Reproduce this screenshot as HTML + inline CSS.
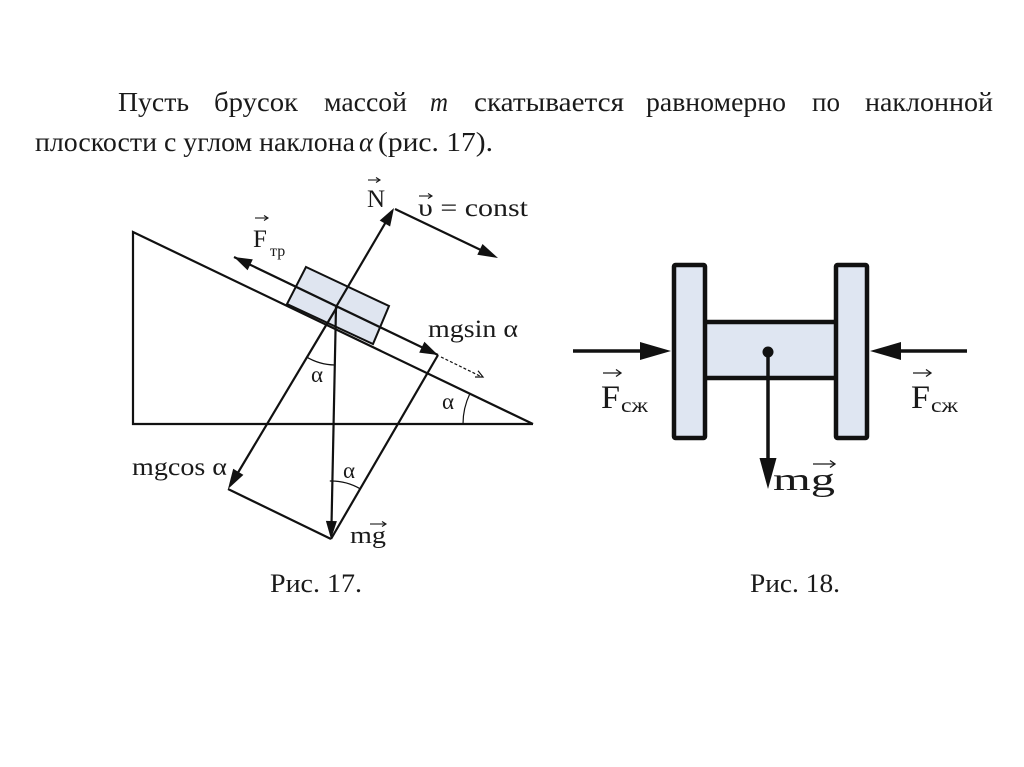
<!DOCTYPE html>
<html><head><meta charset="utf-8"><style>
html,body{margin:0;padding:0;background:#fff;}
svg{display:block;}
text{font-family:"Liberation Serif","DejaVu Serif",serif;fill:#1a1a1a;}
</style></head><body>
<svg width="1024" height="767" viewBox="0 0 1024 767" xmlns="http://www.w3.org/2000/svg">
<rect width="1024" height="767" fill="#fff"/>
<!-- paragraph -->
<g font-size="27">
<text x="118" y="111" textLength="71" lengthAdjust="spacingAndGlyphs">Пусть</text>
<text x="214" y="111" textLength="84" lengthAdjust="spacingAndGlyphs">брусок</text>
<text x="324" y="111" textLength="83" lengthAdjust="spacingAndGlyphs">массой</text>
<text x="430" y="111" textLength="18" lengthAdjust="spacingAndGlyphs" font-style="italic">m</text>
<text x="474" y="111" textLength="150" lengthAdjust="spacingAndGlyphs">скатывается</text>
<text x="646" y="111" textLength="140" lengthAdjust="spacingAndGlyphs">равномерно</text>
<text x="812" y="111" textLength="28" lengthAdjust="spacingAndGlyphs">по</text>
<text x="865" y="111" textLength="128" lengthAdjust="spacingAndGlyphs">наклонной</text>
<text x="35" y="151" textLength="320" lengthAdjust="spacingAndGlyphs">плоскости с углом наклона</text>
<text x="359" y="151" textLength="14" lengthAdjust="spacingAndGlyphs" font-style="italic">α</text>
<text x="378" y="151" textLength="115" lengthAdjust="spacingAndGlyphs">(рис. 17).</text>
</g>

<!-- Figure 17 -->
<polygon points="306,267 389,306 373,344 287,304" fill="#dfe5f0" stroke="#111" stroke-width="2"/>
<g stroke="#111" fill="none" stroke-width="2.2" stroke-linejoin="miter">
<polyline points="533,424 133,424 133,232 533,424"/>
<line x1="234" y1="257" x2="438" y2="355"/>
<line x1="336" y1="307" x2="390" y2="215"/>
<line x1="395" y1="209" x2="485" y2="252"/>
<line x1="337" y1="307" x2="233" y2="481"/>
<line x1="336" y1="307" x2="331.5" y2="525"/>
<line x1="228" y1="489" x2="331" y2="539"/>
<line x1="438" y1="355" x2="331" y2="539"/>
</g>
<g stroke="#111" fill="none" stroke-width="1.2">
<path d="M306.2,356.8 A58,58 0 0 0 334.8,365"/>
<path d="M469.9,393.6 A70,70 0 0 0 463,424"/>
<path d="M329.8,481 A58,58 0 0 1 360.2,488.8"/>
<line x1="441" y1="357" x2="482" y2="377" stroke-dasharray="3,2"/>
<polyline points="478,370.8 483,377 475,377"/>
</g>
<g fill="#111">
<polygon points="234,257 252.8,259.4 247.6,270.2"/>
<polygon points="438,355 424.4,341.8 419.2,352.6"/>
<polygon points="394,208 390.1,226.5 379.7,220.5"/>
<polygon points="498,258 477.3,254.8 482.5,244.0"/>
<polygon points="228,489 243.4,474.9 233.2,468.7"/>
<polygon points="331,539 336.9,521.1 325.9,520.9"/>
</g>
<!-- fig17 labels -->
<g font-size="25">
<text x="253" y="247">F</text>
<text x="270" y="256" font-size="16">тр</text>
<text x="367" y="207">N</text>
<text x="418" y="216" textLength="110" lengthAdjust="spacingAndGlyphs">υ = const</text>
<text x="428" y="337" textLength="90" lengthAdjust="spacingAndGlyphs">mgsin α</text>
<text x="132" y="475" textLength="95" lengthAdjust="spacingAndGlyphs">mgcos α</text>
<text x="311" y="382" font-size="23">α</text>
<text x="442" y="409" font-size="23">α</text>
<text x="343" y="478" font-size="23">α</text>
<text x="350" y="543" font-size="24" textLength="36" lengthAdjust="spacingAndGlyphs">mg</text>
<text x="270" y="592" font-size="26" textLength="92" lengthAdjust="spacingAndGlyphs">Рис. 17.</text>
<text x="750" y="592" font-size="26" textLength="90" lengthAdjust="spacingAndGlyphs">Рис. 18.</text>
</g>
<!-- vector arrows above letters -->
<g stroke="#1a1a1a" stroke-width="1.1" fill="none">
<line x1="255" y1="218" x2="268" y2="218"/><polyline points="264,215.5 268,218 264,220.5"/>
<line x1="368" y1="180" x2="380" y2="180"/><polyline points="376,177.5 380,180 376,182.5"/>
<line x1="419" y1="196" x2="432" y2="196"/><polyline points="428,193.5 432,196 428,198.5"/>
<line x1="370" y1="524" x2="386" y2="524"/><polyline points="382,521.5 386,524 382,526.5"/>
</g>

<!-- Figure 18 -->
<rect x="705" y="322" width="131" height="56" fill="#dfe6f2" stroke="none"/>
<line x1="705" y1="322" x2="836" y2="322" stroke="#111" stroke-width="4.5"/>
<line x1="705" y1="378" x2="836" y2="378" stroke="#111" stroke-width="4.5"/>
<rect x="674" y="265" width="31" height="173" rx="1.5" fill="#dfe6f2" stroke="#111" stroke-width="4.5"/>
<rect x="836" y="265" width="31" height="173" rx="1.5" fill="#dfe6f2" stroke="#111" stroke-width="4.5"/>
<circle cx="768" cy="352" r="5.5" fill="#111"/>
<g stroke="#111" stroke-width="3.5">
<line x1="768" y1="352" x2="768" y2="462"/>
<line x1="573" y1="351" x2="645" y2="351"/>
<line x1="967" y1="351" x2="895" y2="351"/>
</g>
<g fill="#111">
<polygon points="759.5,458 776.5,458 768,489"/>
<polygon points="640,342 640,360 671,351"/>
<polygon points="901,342 901,360 870,351"/>
</g>
<g font-size="33">
<text x="601" y="408" textLength="19" lengthAdjust="spacingAndGlyphs">F</text>
<text x="621" y="412" font-size="21" textLength="27" lengthAdjust="spacingAndGlyphs">сж</text>
<text x="911" y="408" textLength="19" lengthAdjust="spacingAndGlyphs">F</text>
<text x="931" y="412" font-size="21" textLength="27" lengthAdjust="spacingAndGlyphs">сж</text>
<text x="773" y="490" font-size="32" textLength="62" lengthAdjust="spacingAndGlyphs">mg</text>
</g>
<g stroke="#1a1a1a" stroke-width="1.3" fill="none">
<line x1="603" y1="373" x2="621" y2="373"/><polyline points="616,369.5 621,373 616,376.5"/>
<line x1="913" y1="373" x2="931" y2="373"/><polyline points="926,369.5 931,373 926,376.5"/>
<line x1="813" y1="464" x2="835" y2="464"/><polyline points="830,460.5 835,464 830,467.5"/>
</g>
</svg>
</body></html>
